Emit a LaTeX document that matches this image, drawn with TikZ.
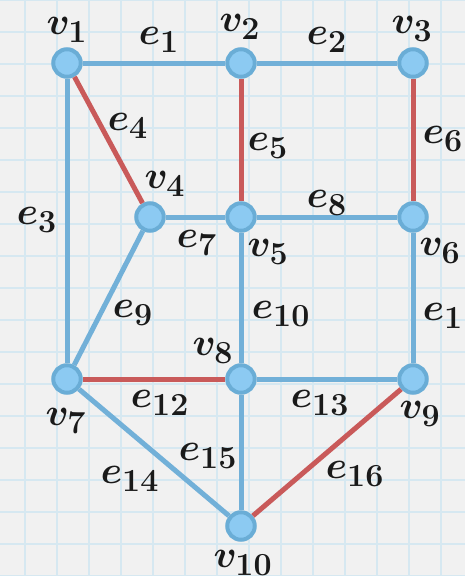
\documentclass[tikz,border=0pt]{standalone}
\usepackage{amsmath,bm}
\definecolor{bgc}{HTML}{F1F1F1}
\definecolor{gridc}{HTML}{D6E8F1}
\definecolor{edgeb}{HTML}{72B0D8}
\definecolor{edger}{HTML}{C95A5A}
\definecolor{nodef}{HTML}{8CCAF2}
\definecolor{noded}{HTML}{6AADD6}
\definecolor{txt}{HTML}{1A1A1A}
\begin{document}
\begin{tikzpicture}[x=1pt,y=-1pt,
  vert/.style={circle,draw=noded,fill=nodef,line width=4pt,minimum size=27.5pt,inner sep=0pt},
  bl/.style={draw=edgeb,line width=5pt},
  rd/.style={draw=edger,line width=5pt},
  lab/.style={text=txt,inner sep=0pt,scale=1.55,transform shape,font=\fontsize{24.88}{26}\selectfont}]
\fill[bgc] (0,0) rectangle (465,576);
\useasboundingbox (0,0) rectangle (465,576);
\foreach \i in {0,...,13} {\draw[gridc,line width=1.6pt] (25+32*\i,0) -- (25+32*\i,576);}
\foreach \j in {0,...,18} {\draw[gridc,line width=1.6pt] (0,32*\j) -- (465,32*\j);}
% vertices
\node[vert] (v1) at (67,63) {};
\node[vert] (v2) at (241,63) {};
\node[vert] (v3) at (413,63) {};
\node[vert] (v4) at (150,217) {};
\node[vert] (v5) at (241,217) {};
\node[vert] (v6) at (413,217) {};
\node[vert] (v7) at (67,379) {};
\node[vert] (v8) at (241,379) {};
\node[vert] (v9) at (413,379) {};
\node[vert] (v10) at (241,526) {};
% edges
\path[bl] (v1) -- (v2);
\path[bl] (v2) -- (v3);
\path[bl] (v1) -- (v7);
\path[rd] (v1) -- (v4);
\path[rd] (v2) -- (v5);
\path[rd] (v3) -- (v6);
\path[bl] (v4) -- (v5);
\path[bl] (v5) -- (v6);
\path[bl] (v4) -- (v7);
\path[bl] (v5) -- (v8);
\path[bl] (v6) -- (v9);
\path[rd] (v7) -- (v8);
\path[bl] (v8) -- (v9);
\path[bl] (v7) -- (v10);
\path[bl] (v8) -- (v10);
\path[rd] (v9) -- (v10);
% vertex labels
\node[lab] (lv1) at (67,30) {$\bm{v_{1}}$};
\node[lab] (lv2) at (240,27) {$\bm{v_{2}}$};
\node[lab] (lv3) at (412,29) {$\bm{v_{3}}$};
\node[lab] (lv4) at (165,184) {$\bm{v_{4}}$};
\node[lab] (lv5) at (268,252) {$\bm{v_{5}}$};
\node[lab] (lv6) at (440,251) {$\bm{v_{6}}$};
\node[lab] (lv7) at (66,421) {$\bm{v_{7}}$};
\node[lab] (lv8) at (213,351) {$\bm{v_{8}}$};
\node[lab] (lv9) at (420,414) {$\bm{v_{9}}$};
\node[lab] (lv10) at (243,563) {$\bm{v_{10}}$};
% edge labels
\node[lab] (le1) at (159,40) {$\bm{e_{1}}$};
\node[lab] (le2) at (327,40) {$\bm{e_{2}}$};
\node[lab] (le3) at (37,220) {$\bm{e_{3}}$};
\node[lab] (le4) at (128,126) {$\bm{e_{4}}$};
\node[lab] (le5) at (268,146) {$\bm{e_{5}}$};
\node[lab] (le6) at (443,139) {$\bm{e_{6}}$};
\node[lab] (le7) at (197,243) {$\bm{e_{7}}$};
\node[lab] (le8) at (327,203) {$\bm{e_{8}}$};
\node[lab] (le9) at (133,313) {$\bm{e_{9}}$};
\node[lab] (le10) at (281,314) {$\bm{e_{10}}$};
\node[lab] (le11) at (452,316) {$\bm{e_{11}}$};
\node[lab] (le12) at (160,403) {$\bm{e_{12}}$};
\node[lab] (le13) at (320,403) {$\bm{e_{13}}$};
\node[lab] (le14) at (130,479) {$\bm{e_{14}}$};
\node[lab] (le15) at (208,456) {$\bm{e_{15}}$};
\node[lab] (le16) at (355,474) {$\bm{e_{16}}$};
\end{tikzpicture}
\end{document}
